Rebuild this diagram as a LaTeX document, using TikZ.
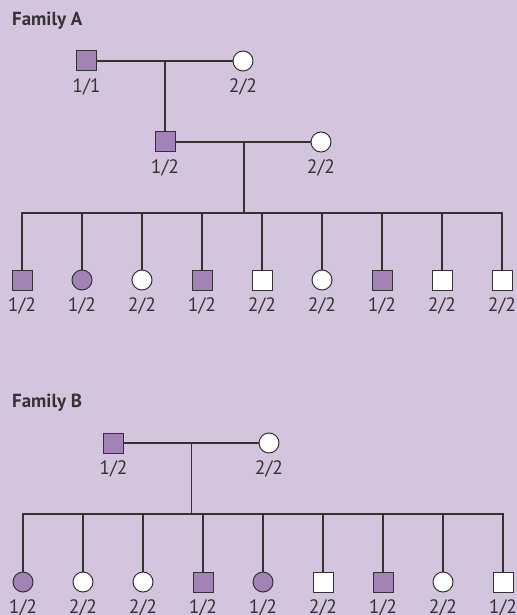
\documentclass[tikz,border=0pt]{standalone}
\usepackage{fontspec}
\setmainfont{PT Sans}
\usetikzlibrary{positioning}

\definecolor{bgpanel}{HTML}{D4C5DF}
\definecolor{affected}{HTML}{A383B6}
\definecolor{pedline}{HTML}{333333}

\begin{document}
\begin{tikzpicture}[
    x=1bp,
    y=-1bp,
    node distance=40bp,
    male/.style={
        rectangle,
        draw=pedline,
        line width=1bp,
        fill=white,
        minimum size=20bp,
        inner sep=0pt,
        outer sep=0pt
    },
    female/.style={
        circle,
        draw=pedline,
        line width=1bp,
        fill=white,
        minimum size=20bp,
        inner sep=0pt,
        outer sep=0pt
    },
    carrier/.style={
        fill=affected
    },
    geno/.style={
        font=\fontsize{19.5}{20}\selectfont,
        text=pedline,
        inner sep=0pt
    },
    title/.style={
        font=\fontsize{19}{20}\selectfont\bfseries,
        text=pedline,
        anchor=west,
        inner sep=0pt
    },
    link/.style={
        draw=pedline,
        line width=1.3bp
    },
    every label/.style={geno},
    label distance=7.5bp
]

    % --- Panel ---
    \fill [bgpanel] (0,0) rectangle (517,615);
    \useasboundingbox (0,0) rectangle (517,615);

    % --- Family A ---
    \node [title] (titleA) at (12,21) {Family A};

    \node [male, carrier, label=below:1/1] (a1) at (86.5,61) {};
    \node [female, label=below:2/2] (a2) at (243,61) {};
    \node [male, carrier, label=below:1/2] (a3) at (165,142) {};
    \node [female, label=below:2/2] (a4) at (321,142) {};

    \coordinate (matA) at (a3 |- a1);
    \coordinate (matA2) at (244,142);
    \coordinate (sibA) at (244,213);

    % children of family A
    \node [male, carrier, label=below:1/2] (ca1) at (22,280) {};
    \node [female, carrier, label=below:1/2, right=of ca1] (ca2) {};
    \node [female, label=below:2/2, right=of ca2] (ca3) {};
    \node [male, carrier, label=below:1/2, right=of ca3] (ca4) {};
    \node [male, label=below:2/2, right=of ca4] (ca5) {};
    \node [female, label=below:2/2, right=of ca5] (ca6) {};
    \node [male, carrier, label=below:1/2, right=of ca6] (ca7) {};
    \node [male, label=below:2/2, right=of ca7] (ca8) {};
    \node [male, label=below:2/2, right=of ca8] (ca9) {};

    % --- Lines of family A ---
    \path [link] (a1) -- (a2);
    \path [link] (matA) -- (a3);
    \path [link] (a3) -- (a4);
    \path [link] (matA2) -- (sibA);
    \path [link] (ca1.north) |- (sibA) -| (ca9.north);
    \path [link] (ca2.north) -- (ca2.north |- sibA);
    \path [link] (ca3.north) -- (ca3.north |- sibA);
    \path [link] (ca4.north) -- (ca4.north |- sibA);
    \path [link] (ca5.north) -- (ca5.north |- sibA);
    \path [link] (ca6.north) -- (ca6.north |- sibA);
    \path [link] (ca7.north) -- (ca7.north |- sibA);
    \path [link] (ca8.north) -- (ca8.north |- sibA);

    % --- Family B ---
    \node [title] (titleB) at (12,403) {Family B};

    \node [male, carrier, label=below:1/2] (b1) at (113.5,443) {};
    \node [female, label=below:2/2] (b2) at (269,443) {};

    \coordinate (matB) at (191.5,443);
    \coordinate (sibB) at (191.5,514);

    % children of family B
    \node [female, carrier, label=below:1/2] (cb1) at (23,582) {};
    \node [female, label=below:2/2, right=of cb1] (cb2) {};
    \node [female, label=below:2/2, right=of cb2] (cb3) {};
    \node [male, carrier, label=below:1/2, right=of cb3] (cb4) {};
    \node [female, carrier, label=below:1/2, right=of cb4] (cb5) {};
    \node [male, label=below:2/2, right=of cb5] (cb6) {};
    \node [male, carrier, label=below:1/2, right=of cb6] (cb7) {};
    \node [female, label=below:2/2, right=of cb7] (cb8) {};
    \node [male, label=below:1/2, right=of cb8] (cb9) {};

    % --- Lines of family B ---
    \path [link] (b1) -- (b2);
    \path [link] (matB) -- (sibB);
    \path [link] (cb1.north) |- (sibB) -| (cb9.north);
    \path [link] (cb2.north) -- (cb2.north |- sibB);
    \path [link] (cb3.north) -- (cb3.north |- sibB);
    \path [link] (cb4.north) -- (cb4.north |- sibB);
    \path [link] (cb5.north) -- (cb5.north |- sibB);
    \path [link] (cb6.north) -- (cb6.north |- sibB);
    \path [link] (cb7.north) -- (cb7.north |- sibB);
    \path [link] (cb8.north) -- (cb8.north |- sibB);

\end{tikzpicture}
\end{document}
